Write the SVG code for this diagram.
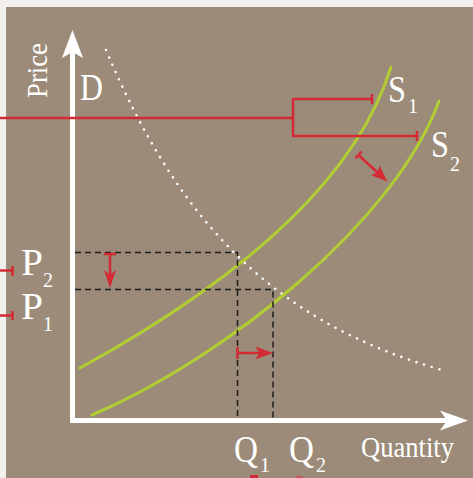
<svg xmlns="http://www.w3.org/2000/svg" width="473" height="478" viewBox="0 0 473 478">
<defs>
<style>
.lbl{font-family:"Liberation Serif","Times New Roman",serif;fill:#ffffff;}
.red{stroke:#d42a33;stroke-width:2.5;fill:none;}
.redf{fill:#d42a33;}
.dash{stroke:#1e1e1e;stroke-width:1.5;stroke-dasharray:6 4;fill:none;}
.sup{stroke:#b2cd33;stroke-width:3;fill:none;stroke-linecap:round;}
.axis{stroke:#ffffff;stroke-width:5;fill:none;}
</style>
</defs>
<rect x="0" y="0" width="473" height="478" fill="#f2f0ed"/>
<rect x="6" y="7" width="467" height="471" fill="#9b8b78"/>

<g id="axes">
<line class="axis" x1="72.5" y1="52" x2="72.5" y2="423"/>
<line class="axis" x1="70" y1="420.5" x2="450" y2="420.5"/>
<polygon points="72.5,30 83,58 72.5,52 62,58" fill="#ffffff"/>
<polygon points="468,420.5 440,410.5 447,420.5 440,430.5" fill="#ffffff"/>
<text class="lbl" font-size="29" transform="translate(47,98) rotate(-90)" textLength="55" lengthAdjust="spacingAndGlyphs">Price</text>
<text class="lbl" font-size="29" x="361" y="457" textLength="93" lengthAdjust="spacingAndGlyphs">Quantity</text>
</g>

<g id="demand">
<path d="M106,50 C176,216 269,321 442,370" fill="none" stroke="#ffffff" stroke-width="2.6" stroke-linecap="round" stroke-dasharray="0 8"/>
<text class="lbl" font-size="38" x="80" y="100" textLength="23" lengthAdjust="spacingAndGlyphs">D</text>
</g>

<g id="supply1">
<path class="sup" d="M80,368 C200,302 350,200 391,67"/>
<text class="lbl" font-size="38" x="388" y="102" textLength="18" lengthAdjust="spacingAndGlyphs">S</text>
<text class="lbl" font-size="20" x="408" y="113">1</text>
</g>

<g id="supply2">
<path class="sup" d="M92,415 C225,358 395,222 439,101"/>
<text class="lbl" font-size="38" x="431" y="157" textLength="18" lengthAdjust="spacingAndGlyphs">S</text>
<text class="lbl" font-size="20" x="450" y="171">2</text>
</g>

<g id="prices">
<text class="lbl" font-size="38" x="21" y="275" textLength="22" lengthAdjust="spacingAndGlyphs">P</text>
<text class="lbl" font-size="20" x="43" y="287">2</text>
<text class="lbl" font-size="38" x="21" y="319" textLength="22" lengthAdjust="spacingAndGlyphs">P</text>
<text class="lbl" font-size="20" x="43" y="331">1</text>
</g>

<g id="quantities">
<text class="lbl" font-size="38" x="234" y="462" textLength="24" lengthAdjust="spacingAndGlyphs">Q</text>
<text class="lbl" font-size="20" x="260" y="472">1</text>
<text class="lbl" font-size="38" x="289" y="462" textLength="25" lengthAdjust="spacingAndGlyphs">Q</text>
<text class="lbl" font-size="20" x="316" y="472">2</text>
</g>

<g id="connectors">
<path class="dash" d="M75,252.5 H237.5 V418"/>
<path class="dash" d="M75,289.5 H273 V418"/>

<path class="red" d="M0,118 H293"/>
<path class="red" d="M293,98.5 V136.5"/>
<path class="red" d="M292,99 H372 M372,94 V104"/>
<path class="red" d="M292,136 H417 M417,131 V141"/>

<path class="red" d="M0,270.5 H12.5 M12.5,266 V276"/>
<path class="red" d="M0,315.5 H12.5 M12.5,311 V320"/>

<path class="red" d="M104,254 H116 M110,254 V276"/>
<polygon class="redf" points="110,288 104,270 110,275 116,270"/>

<path class="red" d="M237.5,347 V359 M237.5,353 H262"/>
<polygon class="redf" points="273,353 255,346.5 260,353 255,359.5"/>

<path class="red" d="M355.5,158.3 L361.5,151.7 M358.5,155 L378,173"/>
<polygon class="redf" points="387.5,181.5 370.8,175 377.5,172.6 379.6,165.4"/>

<rect x="250" y="475" width="8" height="3" fill="#d42a33"/>
<rect x="296" y="476" width="7" height="2" fill="#c8565c"/>
</g>
</svg>
